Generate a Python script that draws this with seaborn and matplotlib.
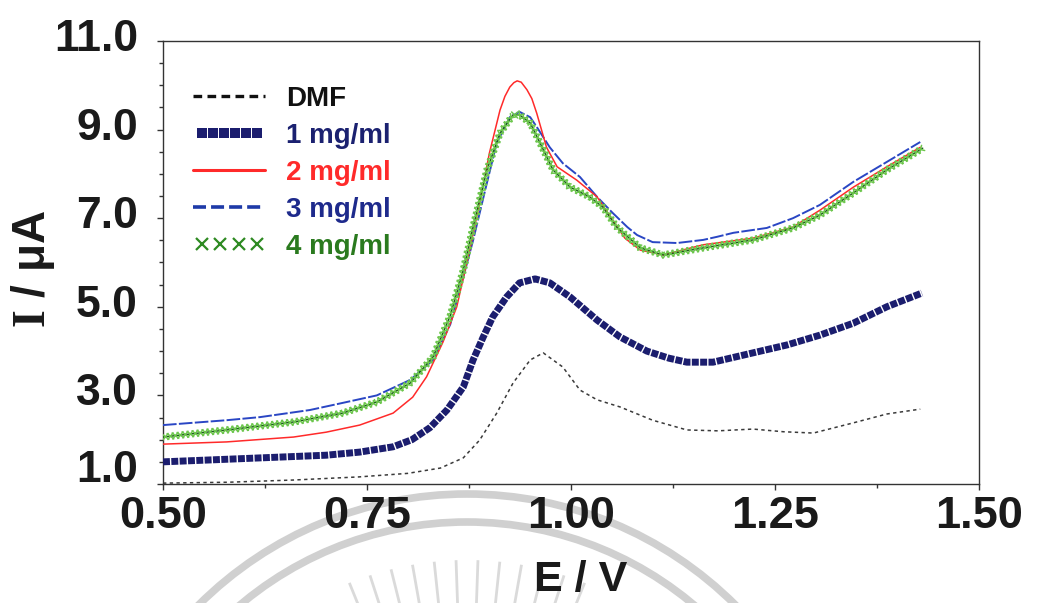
import numpy as np
import pandas as pd
import matplotlib
matplotlib.use("Agg")
import matplotlib.pyplot as plt
import matplotlib.patheffects as pe
import matplotlib.transforms as mtransforms
from matplotlib.lines import Line2D
from matplotlib.legend_handler import HandlerLine2D
from matplotlib.patches import Arc
from matplotlib.ticker import MultipleLocator, FormatStrFormatter
import seaborn as sns

# ---- DPV curves: potential E (V) vs current I (uA) ----
e_dmf = [0.50, 0.58, 0.66, 0.74, 0.80, 0.84, 0.868, 0.888, 0.909, 0.929, 0.950, 0.966,
         0.990, 1.011, 1.032, 1.060, 1.100, 1.142, 1.180, 1.223, 1.260, 1.297, 1.346,
         1.387, 1.428]
i_dmf = [1.02, 1.04, 1.09, 1.16, 1.24, 1.36, 1.59, 1.99, 2.60, 3.28, 3.80, 3.96,
         3.64, 3.12, 2.90, 2.74, 2.44, 2.22, 2.20, 2.24, 2.18, 2.15, 2.38,
         2.58, 2.69]

e_1mg = [0.50, 0.62, 0.70, 0.741, 0.782, 0.805, 0.827, 0.848, 0.868, 0.880, 0.892, 0.904,
         0.921, 0.937, 0.956, 0.974, 0.999, 1.032, 1.060, 1.093, 1.120, 1.142, 1.174,
         1.223, 1.265, 1.305, 1.346, 1.387, 1.430]
i_1mg = [1.50, 1.59, 1.65, 1.72, 1.84, 2.00, 2.27, 2.67, 3.19, 3.80, 4.30, 4.77,
         5.22, 5.54, 5.63, 5.54, 5.22, 4.70, 4.32, 4.00, 3.84, 3.75, 3.75,
         3.96, 4.14, 4.36, 4.63, 5.00, 5.31]

e_2mg = [0.50, 0.578, 0.66, 0.70, 0.741, 0.782, 0.806, 0.823, 0.843, 0.860, 0.876, 0.888,
         0.900, 0.913, 0.919, 0.925, 0.930, 0.934, 0.939, 0.946, 0.952, 0.958, 0.970,
         0.983, 1.007, 1.032, 1.051, 1.066, 1.085, 1.113, 1.162, 1.223, 1.272, 1.305,
         1.346, 1.387, 1.428]
i_2mg = [1.90, 1.95, 2.06, 2.17, 2.33, 2.60, 2.96, 3.42, 4.20, 5.00, 6.30, 7.34,
         8.47, 9.44, 9.75, 9.96, 10.06, 10.10, 10.07, 9.90, 9.70, 9.37, 8.60,
         8.16, 7.86, 7.48, 6.96, 6.55, 6.28, 6.17, 6.40, 6.55, 6.80, 7.18,
         7.70, 8.16, 8.60]

e_3mg = [0.50, 0.578, 0.619, 0.68, 0.72, 0.762, 0.803, 0.831, 0.852, 0.868, 0.880, 0.897,
         0.909, 0.925, 0.937, 0.950, 0.958, 0.974, 0.990, 1.011, 1.032, 1.051, 1.069,
         1.081, 1.100, 1.130, 1.162, 1.179, 1.199, 1.240, 1.272, 1.305, 1.346, 1.387,
         1.428]
i_3mg = [2.33, 2.44, 2.51, 2.67, 2.83, 3.00, 3.35, 3.80, 4.60, 5.67, 6.50, 7.80,
         8.70, 9.28, 9.40, 9.28, 9.06, 8.60, 8.24, 7.93, 7.48, 7.12, 6.80,
         6.62, 6.46, 6.44, 6.51, 6.58, 6.67, 6.78, 7.00, 7.30, 7.82, 8.27,
         8.72]

e_4mg = [0.50, 0.578, 0.66, 0.72, 0.762, 0.803, 0.831, 0.852, 0.868, 0.880, 0.897, 0.913,
         0.929, 0.937, 0.950, 0.962, 0.978, 0.999, 1.023, 1.039, 1.056, 1.085, 1.113,
         1.162, 1.223, 1.272, 1.305, 1.346, 1.387, 1.431]
i_4mg = [2.06, 2.22, 2.40, 2.60, 2.85, 3.28, 3.87, 4.80, 5.83, 6.80, 8.09, 8.92,
         9.33, 9.33, 9.15, 8.70, 8.09, 7.70, 7.48, 7.25, 6.80, 6.33, 6.17,
         6.33, 6.51, 6.78, 7.07, 7.57, 8.09, 8.58]

series_labels = ["DMF", "1 mg/ml", "2 mg/ml", "3 mg/ml", "4 mg/ml"]
x_ticks = [0.50, 0.75, 1.00, 1.25, 1.50]
y_ticks = [1.0, 3.0, 5.0, 7.0, 9.0, 11.0]

frames = []
for lab, ee, ii in zip(series_labels,
                       [e_dmf, e_1mg, e_2mg, e_3mg, e_4mg],
                       [i_dmf, i_1mg, i_2mg, i_3mg, i_4mg]):
    frames.append(pd.DataFrame({"E": ee, "I": ii, "sample": lab}))
df = pd.concat(frames, ignore_index=True)

sns.set_theme(style="white")
plt.rcParams["font.family"] = ["Liberation Sans", "DejaVu Sans"]
plt.rcParams["font.weight"] = "bold"
plt.rcParams["mathtext.fontset"] = "custom"
plt.rcParams["mathtext.bf"] = "Liberation Serif:bold"

W, H = 1056, 603
fig = plt.figure(figsize=(W / 100, H / 100), dpi=100)
fig.patch.set_facecolor("white")

# faint circular seal stamped behind the chart (pixel space)
bg = fig.add_axes([0, 0, 1, 1], zorder=0)
bg.set_xlim(0, W)
bg.set_ylim(H, 0)
bg.axis("off")
seal_c = (467, 874)
for r in (380, 352):
    bg.add_patch(Arc(seal_c, 2 * r, 2 * r, theta1=180, theta2=360,
                     color="#d0d0d0", lw=5.5))
for ang in np.arange(-22, 23, 4):
    a = np.deg2rad(ang)
    r0, r1 = 240, 314
    bg.plot([seal_c[0] + r0 * np.sin(a), seal_c[0] + r1 * np.sin(a)],
            [seal_c[1] - r0 * np.cos(a), seal_c[1] - r1 * np.cos(a)],
            color="#dadada", lw=2.0, solid_capstyle="butt")

ax = fig.add_axes([163 / W, 1 - 484 / H, (979 - 163) / W, (484 - 41) / H], zorder=1)
ax.patch.set_alpha(0)

styles = {
    "DMF": dict(color="#3a3a3a", lw=1.1, ls=(0, (2.2, 2.2))),
    "1 mg/ml": dict(color="#1b1d6e", lw=5.0, ls=(0, (1, 0.2))),
    "2 mg/ml": dict(color="#ff2a2a", lw=1.1, ls="-"),
    "3 mg/ml": dict(color="#2a46c4", lw=1.4, ls=(0, (7, 1.2))),
    "4 mg/ml": dict(color="#1f5a1f", lw=1.1, ls="-"),
}
order_z = {"DMF": 2, "1 mg/ml": 3, "3 mg/ml": 4, "2 mg/ml": 5, "4 mg/ml": 6}

for lab in series_labels:
    sub = df[df["sample"] == lab]
    sns.lineplot(data=sub, x="E", y="I", ax=ax, sort=False, estimator=None,
                 legend=False, zorder=order_z[lab], **styles[lab])

# cross markers riding along the 4 mg/ml trace
green_line = ax.get_lines()[-1]
xmark = dict(spacing=3.6, length=0.85, foreground="#6cc64c", linewidth=1.1)
green_line.set_path_effects([
    pe.Normal(),
    pe.TickedStroke(angle=45, **xmark),
    pe.TickedStroke(angle=-135, **xmark),
    pe.TickedStroke(angle=135, **xmark),
    pe.TickedStroke(angle=-45, **xmark),
])

ax.set_xlim(0.5, 1.5)
ax.set_ylim(1.0, 11.0)
ax.set_xticks(x_ticks)
ax.set_yticks(y_ticks)
ax.xaxis.set_major_formatter(FormatStrFormatter("%.2f"))
ax.yaxis.set_major_formatter(FormatStrFormatter("%.1f"))
ax.xaxis.set_minor_locator(MultipleLocator(0.125))
ax.yaxis.set_minor_locator(MultipleLocator(0.5))
ax.tick_params(which="both", direction="out", color="#333333", width=1.0,
               bottom=True, left=True, top=False, right=False)
ax.tick_params(which="major", length=4)
ax.tick_params(which="minor", length=3)
ax.tick_params(axis="x", which="major", labelsize=32.5, pad=5)
ax.tick_params(axis="y", which="major", labelsize=32, pad=14)
for lbl in ax.get_xticklabels() + ax.get_yticklabels():
    lbl.set_fontweight("bold")
    lbl.set_color("#1a1a1a")
# y labels sit slightly above their ticks; the lowest one more so
for val, lbl in zip(y_ticks, ax.get_yticklabels()):
    shift = 18 if val == 1.0 else 6
    lbl.set_transform(lbl.get_transform() +
                      mtransforms.ScaledTranslation(0, shift / 100, fig.dpi_scale_trans))
for sp in ax.spines.values():
    sp.set_visible(True)
    sp.set_color("#333333")
    sp.set_linewidth(1.0)

ax.set_xlabel("E / V", fontsize=31, fontweight="bold", color="#1a1a1a")
ax.xaxis.set_label_coords(0.512, -0.172)
ax.set_ylabel(r"$\mathbf{I}$ / μA", fontsize=33, fontweight="bold", color="#1a1a1a")
ax.yaxis.set_label_coords(-0.13, 0.485)

handles = [
    Line2D([], [], color="#111111", lw=2.4, ls=(0, (2.6, 1.6))),
    Line2D([], [], color="#1b1d6e", ls="none", marker="s", ms=6.8, mew=0),
    Line2D([], [], color="#ff2a2a", lw=2.2, ls="-"),
    Line2D([], [], color="#1e3aa8", lw=2.6, ls=(0, (3.6, 1.4))),
    Line2D([], [], color="#2e8a22", ls="none", marker="x", ms=8.5, mew=1.6),
]
leg = ax.legend(handles, series_labels, loc="upper left",
                bbox_to_anchor=(0.037, 0.898), frameon=False, fontsize=20,
                handlelength=2.6, handletextpad=0.75, labelspacing=0.39,
                borderpad=0, borderaxespad=0,
                handler_map={handles[1]: HandlerLine2D(numpoints=6),
                             handles[4]: HandlerLine2D(numpoints=4)})
text_colors = ["#111111", "#1b2170", "#ff2a2a", "#1e2a8c", "#2a7a1e"]
for t, c in zip(leg.get_texts(), text_colors):
    t.set_color(c)
    t.set_fontweight("bold")

fig.savefig("out.png", dpi=100, facecolor="white")
